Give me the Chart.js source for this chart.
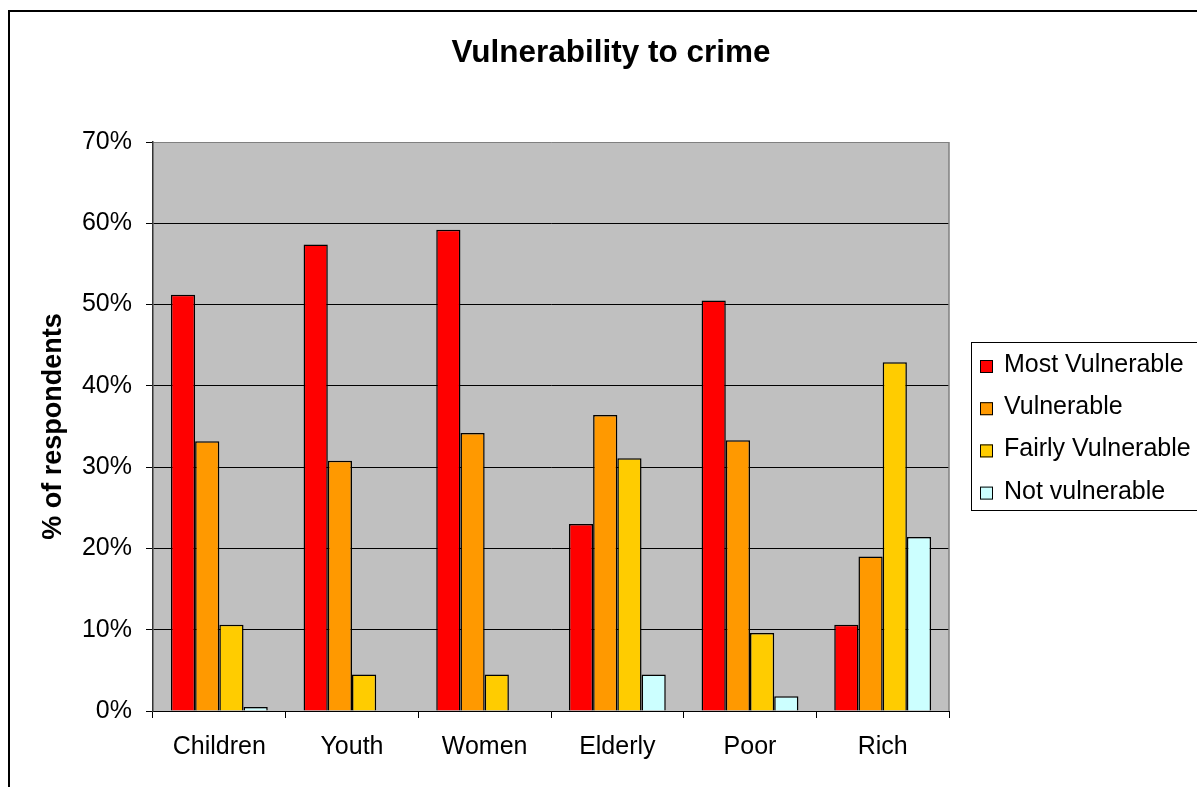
<!DOCTYPE html>
<html>
<head>
<meta charset="utf-8">
<script src="https://cdn.jsdelivr.net/npm/chart.js@4.4.0/dist/chart.umd.min.js"></script>
<style>
  html, body { margin: 0; padding: 0; background: #ffffff; }
  #wrap { position: absolute; left: 0; top: 0; width: 1197px; height: 787px; }
</style>
</head>
<body>
<div id="wrap"><canvas id="c" width="1197" height="787"></canvas></div>
<script>
const chartTitle = "Vulnerability to crime";
const yAxisTitle = "% of respondents";
const categories = ["Children", "Youth", "Women", "Elderly", "Poor", "Rich"];
const seriesNames = ["Most Vulnerable", "Vulnerable", "Fairly Vulnerable", "Not vulnerable"];
const seriesColors = ["#FF0000", "#FF9900", "#FFCC00", "#CCFFFF"];
const mostVulnerable   = [51.2, 57.4, 59.2, 23.0, 50.5, 10.6];
const vulnerable       = [33.2, 30.8, 34.2, 36.4, 33.3, 19.0];
const fairlyVulnerable = [10.6, 4.5, 4.5, 31.1, 9.6, 42.9];
const notVulnerable    = [0.5, null, null, 4.5, 1.8, 21.4];
const yTicksMin = 0, yTicksMax = 70, yTickStep = 10;

const seriesValues = [mostVulnerable, vulnerable, fairlyVulnerable, notVulnerable];
const FONT = "'Liberation Sans', Arial, sans-serif";

const decorPlugin = {
  id: 'decor',
  beforeDraw(chart) {
    const ctx = chart.ctx;
    const a = chart.chartArea;
    ctx.save();
    ctx.fillStyle = '#FFFFFF';
    ctx.fillRect(0, 0, chart.width, chart.height);
    ctx.fillStyle = '#C0C0C0';
    ctx.fillRect(a.left, a.top, a.right - a.left, a.bottom - a.top);
    ctx.restore();
  },
  afterDraw(chart) {
    const ctx = chart.ctx;
    const a = chart.chartArea;
    ctx.save();
    ctx.strokeStyle = '#808080';
    ctx.lineWidth = 1.5;
    ctx.beginPath();
    ctx.moveTo(a.right, a.top);
    ctx.lineTo(a.right, a.bottom);
    ctx.stroke();
    ctx.strokeStyle = '#000000';
    ctx.lineWidth = 2;
    ctx.beginPath();
    ctx.moveTo(9, chart.height + 2);
    ctx.lineTo(9, 11);
    ctx.lineTo(chart.width + 2, 11);
    ctx.stroke();
    ctx.fillStyle = '#000000';
    ctx.font = "bold 31.5px " + FONT;
    ctx.textAlign = 'center';
    ctx.textBaseline = 'alphabetic';
    ctx.fillText(chartTitle, 611, 62);
    const lx = 971, ly = 342, lh = 168;
    ctx.strokeStyle = '#000000';
    ctx.lineWidth = 1;
    ctx.fillStyle = '#FFFFFF';
    ctx.fillRect(lx, ly, chart.width - lx + 5, lh);
    ctx.strokeRect(lx + 0.5, ly + 0.5, chart.width - lx + 5, lh);
    ctx.font = "25px " + FONT;
    ctx.textAlign = 'left';
    chart.data.datasets.forEach((ds, i) => {
      const cy = 366 + i * 42.2;
      ctx.fillStyle = ds.backgroundColor;
      ctx.fillRect(980, cy - 6, 13, 13);
      ctx.strokeRect(980.5, cy - 5.5, 12, 12);
      ctx.fillStyle = '#000000';
      ctx.fillText(ds.label, 1004, cy + 6);
    });
    ctx.restore();
  }
};

const datasets = seriesNames.map((name, i) => ({
  label: name,
  data: seriesValues[i],
  backgroundColor: seriesColors[i],
  borderColor: '#000000',
  borderWidth: 1.5,
  categoryPercentage: 0.73,
  barPercentage: 1.0
}));

new Chart(document.getElementById('c'), {
  type: 'bar',
  data: { labels: categories, datasets: datasets },
  plugins: [decorPlugin],
  options: {
    responsive: false,
    animation: false,
    layout: { padding: { left: 0, top: 142, right: 248, bottom: 0 } },
    plugins: {
      legend: { display: false },
      title: { display: false },
      tooltip: { enabled: false }
    },
    scales: {
      x: {
        afterFit(scale) { scale.height = 76; },
        grid: {
          drawOnChartArea: false,
          drawTicks: true,
          tickLength: 7,
          color: '#000000',
          offset: true
        },
        border: { display: true, color: '#000000', width: 1 },
        ticks: {
          color: '#000000',
          font: { family: FONT, size: 25 },
          padding: 14,
          maxRotation: 0,
          autoSkip: false
        }
      },
      y: {
        min: yTicksMin,
        max: yTicksMax,
        afterFit(scale) { scale.width = 153; },
        grid: {
          drawOnChartArea: true,
          drawTicks: true,
          tickLength: 7,
          color: (c) => (c.tick && c.tick.value === yTicksMax) ? '#808080' : '#000000',
          tickColor: '#000000',
          lineWidth: 1
        },
        border: { display: true, color: '#333333', width: 1.5 },
        ticks: {
          stepSize: yTickStep,
          color: '#000000',
          font: { family: FONT, size: 25 },
          padding: 14,
          callback: (v) => v + '%'
        },
        title: {
          display: true,
          text: yAxisTitle,
          color: '#000000',
          font: { family: FONT, size: 27, weight: 'bold' },
          padding: { top: 37, bottom: 0 }
        }
      }
    }
  }
});
</script>
</body>
</html>
